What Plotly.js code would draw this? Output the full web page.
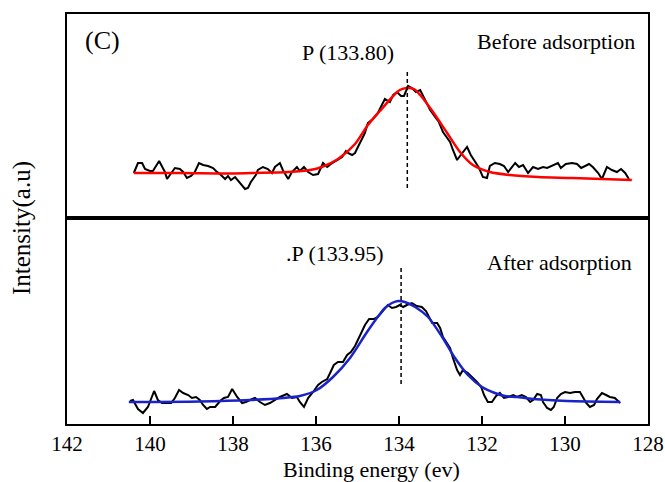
<!DOCTYPE html>
<html>
<head>
<meta charset="utf-8">
<script src="https://cdn.plot.ly/plotly-3.0.1.min.js"></script>
<style>html,body{margin:0;padding:0;background:#fff;}#chart{width:665px;height:482px;}</style>
</head>
<body>
<div id="chart"></div>
<script>
// ---- Before adsorption (top panel) ----
const beforeEnergy = [140.39,140.29,140.19,140.12,140.00,139.93,139.78,139.71,139.64,139.59,139.49,139.40,139.28,139.20,139.11,139.01,138.92,138.82,138.72,138.60,138.48,138.41,138.29,138.19,138.12,138.05,137.95,137.83,137.71,137.64,137.57,137.45,137.40,137.28,137.16,137.06,136.99,136.87,136.80,136.67,136.58,136.46,136.39,136.29,136.19,136.07,135.95,135.83,135.73,135.64,135.49,135.37,135.28,135.23,135.13,135.06,134.99,134.89,134.82,134.75,134.63,134.51,134.41,134.34,134.22,134.14,134.05,133.95,133.88,133.78,133.69,133.59,133.49,133.42,133.33,133.25,133.13,133.04,132.94,132.84,132.77,132.70,132.60,132.53,132.43,132.36,132.27,132.17,132.07,131.98,131.88,131.81,131.69,131.57,131.47,131.37,131.33,131.20,131.11,131.01,130.89,130.77,130.65,130.53,130.43,130.31,130.17,130.10,129.98,129.83,129.71,129.61,129.52,129.42,129.33,129.20,129.11,128.99,128.87,128.75,128.65,128.55,128.46];
const beforeIntensity = [45,55,55,49,47,47,57,51,46,39,45,50,49,46,40,42,46,55,53,52,50,47,43,39,42,38,41,35,29,30,36,43,48,51,49,45,51,55,48,39,46,51,47,51,46,43,44,55,51,54,58,61,67,65,63,65,71,80,85,95,99,105,114,119,116,123,126,122,122,132,130,126,128,122,114,108,101,96,86,80,76,68,58,62,68,71,63,56,50,41,40,52,55,54,52,46,48,55,51,53,45,51,49,51,50,52,55,50,54,55,54,50,52,54,51,45,39,51,48,46,49,45,39];
const beforeFitEnergy = [140.39,139.28,138.07,137.47,136.67,136.14,135.86,135.47,135.06,134.75,134.46,134.14,133.98,133.81,133.64,133.49,133.18,132.84,132.53,132.22,131.81,131.33,130.65,129.83,128.39];
const beforeFitIntensity = [45,45,44.5,45,46,48,51,59,74,93,107,122,128,130,129,123,106,85,66,53,46,43,41,40,38];
const beforePeak = 133.80;
const beforePeakLine = [146,28];

// ---- After adsorption (bottom panel) ----
const afterEnergy = [140.48,140.41,140.29,140.17,140.05,139.90,139.81,139.71,139.59,139.49,139.40,139.30,139.20,139.08,138.99,138.89,138.80,138.72,138.63,138.55,138.43,138.31,138.22,138.12,138.02,137.90,137.78,137.69,137.59,137.47,137.35,137.23,137.11,136.99,136.87,136.70,136.58,136.46,136.39,136.29,136.19,136.07,135.95,135.86,135.73,135.66,135.57,135.47,135.35,135.25,135.16,135.06,134.99,134.89,134.82,134.72,134.60,134.51,134.34,134.27,134.17,134.07,133.98,133.90,133.81,133.69,133.57,133.45,133.35,133.28,133.20,133.08,133.01,132.94,132.84,132.77,132.70,132.60,132.53,132.46,132.34,132.24,132.12,132.02,131.95,131.86,131.76,131.66,131.57,131.47,131.37,131.25,131.16,131.04,130.94,130.84,130.77,130.67,130.58,130.53,130.43,130.34,130.27,130.19,130.10,130.00,129.88,129.76,129.64,129.57,129.49,129.40,129.30,129.23,129.11,129.01,128.92,128.80,128.67];
const afterIntensity = [23,24,15,11,17,33,24,21,21,21,26,34,31,29,26,27,24,19,15,17,17,23,26,27,35,27,21,22,24,26,22,19,21,24,27,30,26,27,22,17,26,32,39,42,45,51,59,62,62,69,72,78,84,92,99,105,105,107,116,119,116,117,119,117,119,121,118,117,113,107,101,101,96,87,81,76,66,54,49,54,51,47,42,37,29,22,22,28,31,26,27,29,27,29,27,22,24,30,29,22,16,14,17,26,30,32,31,32,32,27,21,17,19,25,31,29,27,26,21];
const afterFitEnergy = [140.51,138.80,137.59,136.80,136.39,135.98,135.59,135.18,134.77,134.46,134.34,134.17,134.02,133.86,133.61,133.30,132.96,132.65,132.34,132.00,131.69,131.45,131.16,130.77,129.95,128.67];
const afterFitIntensity = [22,22.5,24,26,28,34,47,66,92,110,116,121,123,122,117,107,87,66,49,37,31,28,27,25,23,22];
const afterPeak = 133.95;
const afterPeakLine = [156,37];

const xTicks = [142,140,138,136,134,132,130,128];
const labels = {
  panel: "(C)",
  beforePeakLabel: "P (133.80)",
  afterPeakLabel: ".P (133.95)",
  before: "Before adsorption",
  after: "After adsorption",
  xTitle: "Binding energy (ev)",
  yTitle: "Intensity(a.u)"
};

const serif = "'Liberation Serif', 'Times New Roman', Times, serif";
const fitBlue = "rgb(25,35,200)";

const traces = [
  {x: beforeEnergy, y: beforeIntensity, xaxis: "x2", yaxis: "y2", mode: "lines", line: {color: "#000", width: 2}, hoverinfo: "skip"},
  {x: beforeFitEnergy, y: beforeFitIntensity, xaxis: "x2", yaxis: "y2", mode: "lines", line: {color: "#ff0000", width: 2.5, shape: "spline", smoothing: 0.8}, hoverinfo: "skip"},
  {x: [beforePeak, beforePeak], y: beforePeakLine, xaxis: "x2", yaxis: "y2", mode: "lines", line: {color: "#000", width: 1.5, dash: "4px,3px"}, hoverinfo: "skip"},
  {x: afterEnergy, y: afterIntensity, xaxis: "x", yaxis: "y", mode: "lines", line: {color: "#000", width: 2}, hoverinfo: "skip"},
  {x: afterFitEnergy, y: afterFitIntensity, xaxis: "x", yaxis: "y", mode: "lines", line: {color: fitBlue, width: 2.5, shape: "spline", smoothing: 0.8}, hoverinfo: "skip"},
  {x: [afterPeak, afterPeak], y: afterPeakLine, xaxis: "x", yaxis: "y", mode: "lines", line: {color: "#000", width: 1.5, dash: "4px,3px"}, hoverinfo: "skip"}
];

const plotW = 581, plotH = 410;
const txt = (size) => ({family: serif, size: size, color: "#000"});
const layout = {
  width: 665, height: 482,
  margin: {l: 67, r: 17, t: 14, b: 58},
  paper_bgcolor: "#fff", plot_bgcolor: "#fff",
  showlegend: false,
  font: txt(21),
  xaxis: {
    range: [142, 128], domain: [0, 1], anchor: "y",
    tickmode: "array", tickvals: xTicks, ticktext: xTicks.map(String),
    ticks: "inside", ticklen: 8, tickwidth: 1.5, tickcolor: "#000",
    showline: true, mirror: true, linecolor: "#000", linewidth: 2,
    showgrid: false, zeroline: false,
    tickfont: txt(21)
  },
  xaxis2: {
    range: [142, 128], domain: [0, 1], anchor: "y2", matches: "x",
    showticklabels: false, ticks: "",
    showline: true, mirror: true, linecolor: "#000", linewidth: 2,
    showgrid: false, zeroline: false
  },
  yaxis: {
    range: [0, 206], domain: [0, 206/410], anchor: "x",
    showticklabels: false, ticks: "",
    showline: true, mirror: true, linecolor: "#000", linewidth: 2,
    showgrid: false, zeroline: false
  },
  yaxis2: {
    range: [0, 204], domain: [206/410, 1], anchor: "x2",
    showticklabels: false, ticks: "",
    showline: true, mirror: true, linecolor: "#000", linewidth: 2,
    showgrid: false, zeroline: false
  },
  annotations: [
    {text: labels.panel, xref: "paper", yref: "paper", x: (102-67)/plotW, y: (424-41)/plotH, xanchor: "center", yanchor: "middle", showarrow: false, font: txt(26)},
    {text: labels.beforePeakLabel, xref: "paper", yref: "paper", x: (348-67)/plotW, y: (424-53)/plotH, xanchor: "center", yanchor: "middle", showarrow: false, font: txt(22)},
    {text: labels.before, xref: "paper", yref: "paper", x: (637-67)/plotW, y: (424-42)/plotH, xanchor: "right", yanchor: "middle", showarrow: false, font: txt(22)},
    {text: labels.afterPeakLabel, xref: "paper", yref: "paper", x: (335-67)/plotW, y: (424-253)/plotH, xanchor: "center", yanchor: "middle", showarrow: false, font: txt(22)},
    {text: labels.after, xref: "paper", yref: "paper", x: (634-67)/plotW, y: (424-262)/plotH, xanchor: "right", yanchor: "middle", showarrow: false, font: txt(22)},
    {text: labels.xTitle, xref: "paper", yref: "paper", x: (371-67)/plotW, y: (424-469)/plotH, xanchor: "center", yanchor: "middle", showarrow: false, font: txt(22)},
    {text: labels.yTitle, xref: "paper", yref: "paper", x: (22-67)/plotW, y: (424-228)/plotH, xanchor: "center", yanchor: "middle", textangle: -90, showarrow: false, font: txt(25)}
  ]
};

Plotly.newPlot("chart", traces, layout, {displayModeBar: false, staticPlot: true});
</script>
</body>
</html>
